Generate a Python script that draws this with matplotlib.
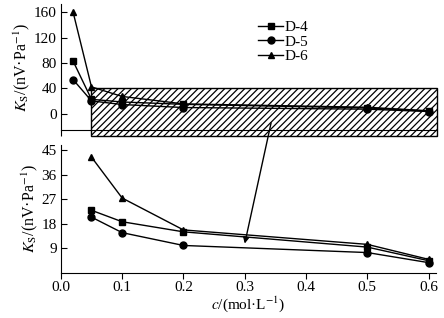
import matplotlib.pyplot as plt
from matplotlib.patches import Rectangle

plt.rcParams['font.family'] = ['Liberation Serif', 'DejaVu Serif']
plt.rcParams['mathtext.fontset'] = 'stix'
plt.rcParams['hatch.linewidth'] = 0.9

# concentration c (mol/L)
c_top = [0.02, 0.05, 0.1, 0.2, 0.5, 0.6]
c_bot = [0.05, 0.1, 0.2, 0.5, 0.6]

# sensitivity Ks (nV/Pa)
d4 = [83, 23, 18.8, 15.1, 9.5, 4.5]
d5 = [54, 20.5, 14.8, 10.1, 7.5, 3.8]
d6 = [160, 42.5, 27.5, 15.8, 10.5, 5.0]

names = ['D-4', 'D-5', 'D-6']
markers = ['s', 'o', '^']
series = [d4, d5, d6]

ylab = r'$K_{\mathrm{S}}$/(nV·Pa$^{-1}$)'

fig = plt.figure(figsize=(4.44, 3.18), dpi=100)
ax1 = fig.add_axes([0.137, 0.591, 0.845, 0.395])
ax2 = fig.add_axes([0.137, 0.1415, 0.845, 0.403])

for ys, m, n in zip(series, markers, names):
    ax1.plot(c_top, ys, color='black', marker=m, markersize=5, lw=1.0,
             label=n, zorder=3)
    ax2.plot(c_bot, ys[1:], color='black', marker=m, markersize=5, lw=1.0,
             zorder=3)

# zoom window
rect = Rectangle((0.05, -35), 0.563, 76, facecolor='white', edgecolor='black',
                 hatch='/////', lw=1.0, clip_on=False, zorder=2)
ax1.add_patch(rect)

for ax in (ax1, ax2):
    ax.set_xlim(0, 0.612)
    for s in ('top', 'right'):
        ax.spines[s].set_visible(False)
    ax.tick_params(axis='y', direction='in', labelsize=11, length=4, pad=3)
    ax.tick_params(axis='x', direction='out', labelsize=11, length=4, pad=2)
    ax.set_ylabel(ylab, fontsize=11.5, labelpad=1)
    ax.set_xticks([0.0, 0.1, 0.2, 0.3, 0.4, 0.5, 0.6])

ax1.set_ylim(-25.3, 172)
ax1.set_yticks([0, 40, 80, 120, 160])
ax1.tick_params(axis='x', labelbottom=False)
ax1.spines['bottom'].set_zorder(2.5)

ax2.set_ylim(0, 47)
ax2.set_yticks([9, 18, 27, 36, 45])
ax2.set_xlabel(r'$c$/(mol·L$^{-1}$)', fontsize=11, labelpad=0)

ax1.legend(loc='upper left', bbox_to_anchor=(0.51, 0.92), frameon=False,
           fontsize=11, handlelength=1.6, handletextpad=0.1,
           labelspacing=0.05, borderaxespad=0)

ax2.annotate('', xy=(0.3, 10.8), xycoords='data',
             xytext=(0.343, -14), textcoords=ax1.transData,
             arrowprops=dict(arrowstyle='-|>', color='black', lw=1.0,
                             mutation_scale=9, shrinkA=0, shrinkB=0))

fig.savefig('out.png', dpi=100)
